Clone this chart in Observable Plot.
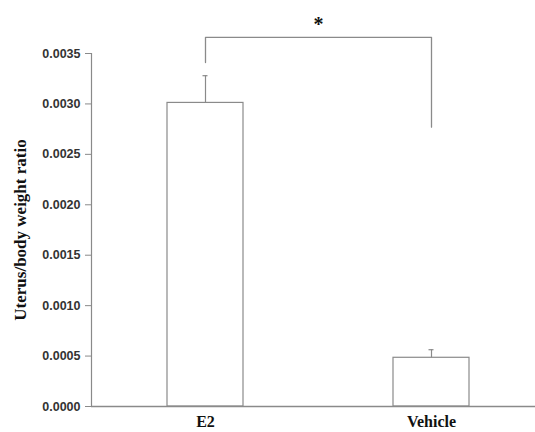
<!DOCTYPE html>
<html>
<head>
<meta charset="utf-8">
<script src="https://cdn.jsdelivr.net/npm/d3@7"></script>
<script src="https://cdn.jsdelivr.net/npm/@observablehq/plot@0.6"></script>
<style>
  html, body { margin: 0; padding: 0; background: #fff; }
  #chart svg { display: block; }
</style>
</head>
<body>
<div id="chart"></div>
<script>
const groups = ["E2", "Vehicle"];
const means = [0.00301, 0.000483];
const errors = [0.00027, 0.00008];
const yTicks = [0, 0.0005, 0.001, 0.0015, 0.002, 0.0025, 0.003, 0.0035];
const yTitle = "Uterus/body weight ratio";
const sigFrom = "E2";
const sigTo = "Vehicle";
const sigLabel = "*";
const sigTopY = 0.00366;
const sigFromY = 0.00341;
const sigToY = 0.00277;

const data = groups.map((g, i) => ({group: g, mean: means[i], err: errors[i], hi: means[i] + errors[i]}));
const bracket = [
  {x: sigFrom, y: sigFromY},
  {x: sigFrom, y: sigTopY},
  {x: sigTo, y: sigTopY},
  {x: sigTo, y: sigToY}
];

const gray = "#8a8a8a";
const serif = "'Liberation Serif', 'Times New Roman', serif";
const sans = "'Liberation Sans', Arial, sans-serif";

const chart = Plot.plot({
  width: 535,
  height: 432,
  marginLeft: 91,
  marginRight: 0,
  marginTop: 53,
  marginBottom: 26,
  style: {background: "#fff", overflow: "visible"},
  x: {domain: groups, range: [91.8, 544.2], paddingInner: 0.665, paddingOuter: 1/3, axis: null},
  y: {domain: [0, 0.0035], axis: null},
  marks: [
    Plot.barY(data, {x: "group", y: "mean", fill: "#fff", stroke: gray, strokeWidth: 1.2}),
    Plot.ruleX(data, {x: "group", y1: "mean", y2: "hi", stroke: gray, strokeWidth: 1.2}),
    Plot.tickY(data, {x: "group", y: "hi", stroke: gray, strokeWidth: 1.2, insetLeft: 35.5, insetRight: 35.5}),
    Plot.ruleY([0], {stroke: gray, strokeWidth: 1.4}),
    Plot.frame({anchor: "left", stroke: gray, strokeWidth: 1.2}),
    Plot.axisY({ticks: yTicks, tickFormat: d3.format(".4f"), tickSize: 6, tickPadding: 5, stroke: gray,
      fontSize: 12.5, fontWeight: "bold", fontFamily: sans, fill: "#333", label: null}),
    Plot.axisX({tickSize: 0, tickPadding: 9, fontSize: 16, fontWeight: "bold", fontFamily: serif, fill: "#111", label: null}),
    Plot.text([yTitle], {frameAnchor: "left", rotate: -90, dx: -66, lineAnchor: "bottom", textAnchor: "middle",
      fontSize: 17, fontWeight: "bold", fontFamily: serif, fill: "#111"}),
    Plot.line(bracket, {x: "x", y: "y", stroke: gray, strokeWidth: 1.3, curve: "linear"}),
    Plot.text([sigLabel], {x: () => sigFrom, y: () => sigTopY, text: d => d, dx: 113, dy: -6, lineAnchor: "bottom",
      fontSize: 20, fontWeight: "bold", fontFamily: serif, fill: "#111"})
  ]
});
document.getElementById("chart").appendChild(chart);
</script>
</body>
</html>
